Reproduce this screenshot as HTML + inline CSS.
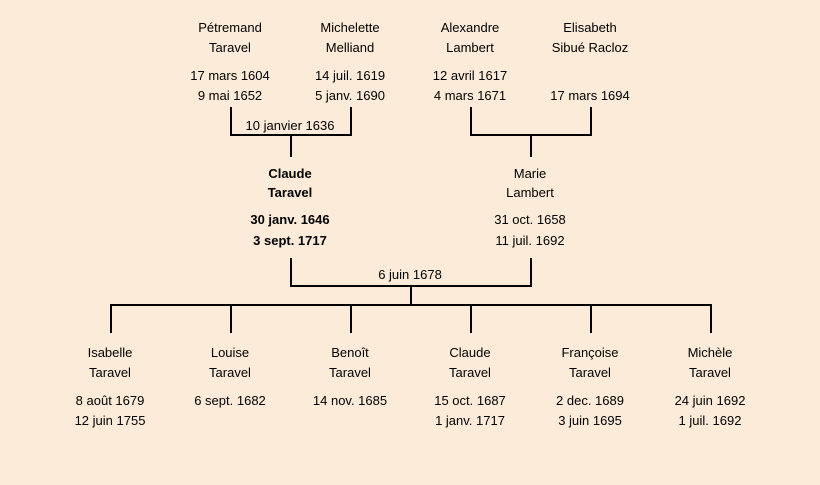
<!DOCTYPE html>
<html><head><meta charset="utf-8"><style>
body{margin:0;width:820px;height:485px;background:#fcebd8;position:relative;overflow:hidden;font-family:"Liberation Sans",sans-serif;font-size:13px;color:#000}
.t{position:absolute;width:140px;margin-left:-70px;margin-top:1px;text-align:center;line-height:18px;white-space:nowrap}
.b{font-weight:bold}
svg{position:absolute;left:0;top:0}
</style></head><body>
<svg width="820" height="485"><g stroke="#000" stroke-width="2" fill="none">
<path d="M231 107V135H351V107M291 135V157"/>
<path d="M471 107V135H591V107M531 135V157"/>
<path d="M291 258V286H531V258M411 286V305"/>
<path d="M111 333V305H711V333M231 305V333M351 305V333M471 305V333M591 305V333"/>
</g></svg>
<div class="t" style="left:230px;top:18px">Pétremand</div><div class="t" style="left:230px;top:38px">Taravel</div>
<div class="t" style="left:230px;top:66px">17 mars 1604</div><div class="t" style="left:230px;top:86px">9 mai 1652</div>
<div class="t" style="left:350px;top:18px">Michelette</div><div class="t" style="left:350px;top:38px">Melliand</div>
<div class="t" style="left:350px;top:66px">14 juil. 1619</div><div class="t" style="left:350px;top:86px">5 janv. 1690</div>
<div class="t" style="left:470px;top:18px">Alexandre</div><div class="t" style="left:470px;top:38px">Lambert</div>
<div class="t" style="left:470px;top:66px">12 avril 1617</div><div class="t" style="left:470px;top:86px">4 mars 1671</div>
<div class="t" style="left:590px;top:18px">Elisabeth</div><div class="t" style="left:590px;top:38px">Sibué Racloz</div>
<div class="t" style="left:590px;top:86px">17 mars 1694</div>
<div class="t" style="left:290px;top:116px">10 janvier 1636</div>
<div class="t b" style="left:290px;top:164px">Claude</div><div class="t b" style="left:290px;top:183px">Taravel</div>
<div class="t b" style="left:290px;top:210px">30 janv. 1646</div><div class="t b" style="left:290px;top:231px">3 sept. 1717</div>
<div class="t" style="left:530px;top:164px">Marie</div><div class="t" style="left:530px;top:183px">Lambert</div>
<div class="t" style="left:530px;top:210px">31 oct. 1658</div><div class="t" style="left:530px;top:231px">11 juil. 1692</div>
<div class="t" style="left:410px;top:265px">6 juin 1678</div>
<div class="t" style="left:110px;top:343px">Isabelle</div><div class="t" style="left:110px;top:363px">Taravel</div>
<div class="t" style="left:110px;top:391px">8 août 1679</div><div class="t" style="left:110px;top:411px">12 juin 1755</div>
<div class="t" style="left:230px;top:343px">Louise</div><div class="t" style="left:230px;top:363px">Taravel</div>
<div class="t" style="left:230px;top:391px">6 sept. 1682</div>
<div class="t" style="left:350px;top:343px">Benoît</div><div class="t" style="left:350px;top:363px">Taravel</div>
<div class="t" style="left:350px;top:391px">14 nov. 1685</div>
<div class="t" style="left:470px;top:343px">Claude</div><div class="t" style="left:470px;top:363px">Taravel</div>
<div class="t" style="left:470px;top:391px">15 oct. 1687</div><div class="t" style="left:470px;top:411px">1 janv. 1717</div>
<div class="t" style="left:590px;top:343px">Françoise</div><div class="t" style="left:590px;top:363px">Taravel</div>
<div class="t" style="left:590px;top:391px">2 dec. 1689</div><div class="t" style="left:590px;top:411px">3 juin 1695</div>
<div class="t" style="left:710px;top:343px">Michèle</div><div class="t" style="left:710px;top:363px">Taravel</div>
<div class="t" style="left:710px;top:391px">24 juin 1692</div><div class="t" style="left:710px;top:411px">1 juil. 1692</div>
</body></html>
